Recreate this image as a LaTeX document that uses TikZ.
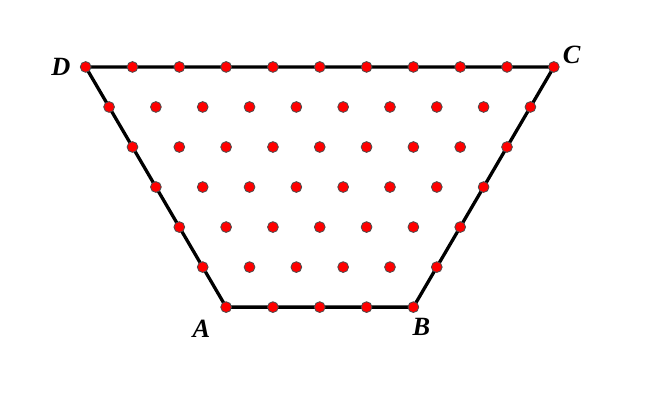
\documentclass[tikz,border=0pt]{standalone}
\usepackage{fontspec}
\setmainfont{Liberation Serif}
\begin{document}
\begin{tikzpicture}[x=1cm,y=1cm,every node/.style={font=\fontsize{16}{18}\selectfont\bfseries\itshape,inner sep=1pt},
  lattice dot/.style={fill=red,draw=black!70,line width=.5pt}]
  \useasboundingbox (-4.83,-2.03) rectangle (8.99,6.56);
  \def\h{0.855}
  \coordinate (A) at (0,0);
  \coordinate (B) at (4,0);
  \coordinate (C) at (7,6*\h);
  \coordinate (D) at (-3,6*\h);
  \draw[line width=2pt,line join=round] (A)--(B)--(C)--(D)--cycle;
  \foreach \j in {0,...,6}
    \foreach \i in {0,...,\numexpr4+\j\relax}
      \filldraw[lattice dot] (\i-\j/2,\j*\h) circle (.115);
  \node (lA) at ([shift={(-.53,-.47)}]A) {A};
  \node (lB) at ([shift={(.17,-.43)}]B) {B};
  \node (lC) at ([shift={(.38,.26)}]C) {C};
  \node (lD) at ([shift={(-.53,0)}]D) {D};
\end{tikzpicture}
\end{document}
